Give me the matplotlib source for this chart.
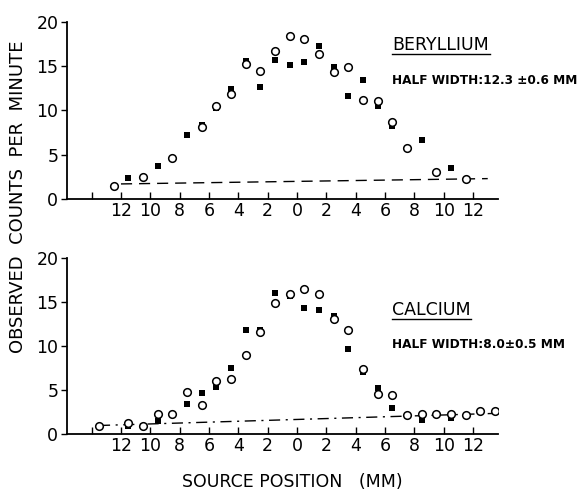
import matplotlib
matplotlib.use("Agg")
import matplotlib.pyplot as plt
import numpy as np

# ---- data ----
be_open_x = [-12.5, -10.5, -8.5, -6.5, -5.5, -4.5, -3.5, -2.5, -1.5, -0.5, 0.5, 1.5, 2.5, 3.5, 4.5, 5.5, 6.5, 7.5, 9.5, 11.5]
be_open_y = [1.5, 2.5, 4.6, 8.1, 10.5, 11.9, 15.2, 14.4, 16.7, 18.4, 18.1, 16.4, 14.3, 14.9, 11.2, 11.0, 8.7, 5.7, 3.1, 2.3]
be_fill_x = [-11.5, -9.5, -7.5, -6.5, -5.5, -4.5, -3.5, -2.5, -1.5, -0.5, 0.5, 1.5, 2.5, 3.5, 4.5, 5.5, 6.5, 8.5, 10.5]
be_fill_y = [2.4, 3.7, 7.2, 8.4, 10.3, 12.4, 15.6, 12.6, 15.7, 15.1, 15.5, 17.3, 14.9, 11.6, 13.4, 10.5, 8.2, 6.7, 3.5]
be_bg_x = [-12.0, 13.0]
be_bg_y = [1.7, 2.3]

ca_open_x = [-13.5, -11.5, -10.5, -9.5, -8.5, -7.5, -6.5, -5.5, -4.5, -3.5, -2.5, -1.5, -0.5, 0.5, 1.5, 2.5, 3.5, 4.5, 5.5, 6.5, 7.5, 8.5, 9.5, 10.5, 11.5, 12.5, 13.5]
ca_open_y = [1.0, 1.3, 0.9, 2.3, 2.3, 4.8, 3.3, 6.1, 6.3, 9.0, 11.6, 14.9, 16.0, 16.5, 16.0, 13.1, 11.8, 7.4, 4.6, 4.5, 2.2, 2.3, 2.3, 2.3, 2.2, 2.6, 2.65]
ca_fill_x = [-11.5, -9.5, -7.5, -6.5, -5.5, -4.5, -3.5, -2.5, -1.5, -0.5, 0.5, 1.5, 2.5, 3.5, 4.5, 5.5, 6.5, 8.5, 10.5]
ca_fill_y = [1.0, 1.55, 3.5, 4.7, 5.4, 7.5, 11.85, 11.85, 16.1, 15.7, 14.4, 14.1, 13.4, 9.7, 7.1, 5.3, 2.95, 1.6, 1.9]
ca_bg_x = [-13.5, 14.0]
ca_bg_y = [1.0, 2.4]

x_ticks = [-14, -12, -10, -8, -6, -4, -2, 0, 2, 4, 6, 8, 10, 12]
x_tick_labels = ["", "12", "10", "8", "6", "4", "2", "0", "2", "4", "6", "8", "10", "12"]
y_ticks = [0, 5, 10, 15, 20]
y_tick_labels = ["0", "5", "10", "15", "20"]

panels = [
    dict(ox=be_open_x, oy=be_open_y, fx=be_fill_x, fy=be_fill_y, bx=be_bg_x, by=be_bg_y,
         title="BERYLLIUM", hw="HALF WIDTH:12.3 ±0.6 MM", ls=(0, (8, 5)),
         ty=45, ul=490 - 392),
    dict(ox=ca_open_x, oy=ca_open_y, fx=ca_fill_x, fy=ca_fill_y, bx=ca_bg_x, by=ca_bg_y,
         title="CALCIUM", hw="HALF WIDTH:8.0±0.5 MM", ls=(0, (8, 4, 1.5, 4)),
         ty=310, ul=473 - 394),
]

plt.rcParams['font.family'] = ['DejaVu Sans']
fig = plt.figure(figsize=(5.84, 4.91), dpi=100)

W, H = 584.0, 491.0
rects = [
    [66.7 / W, 1 - 199 / H, (498 - 66.7) / W, 177.3 / H],
    [66.7 / W, 1 - 434.3 / H, (498 - 66.7) / W, 176 / H],
]

for rect, p in zip(rects, panels):
    ax = fig.add_axes(rect)
    ax.plot(p['bx'], p['by'], color='black', lw=1.0, linestyle=p['ls'])
    ax.plot(p['fx'], p['fy'], 's', color='black', ms=4.4, mew=0)
    ax.plot(p['ox'], p['oy'], 'o', mfc='white', mec='black', ms=5.5, mew=1.1)
    ax.set_xlim(-15.7, 13.7)
    ax.set_ylim(0, 20)
    for s in ['top', 'right']:
        ax.spines[s].set_visible(False)
    ax.spines['left'].set_linewidth(1.3)
    ax.spines['bottom'].set_linewidth(1.3)
    ax.set_xticks(x_ticks)
    ax.set_xticklabels(x_tick_labels, fontsize=12.5)
    ax.set_yticks(y_ticks)
    ax.set_yticklabels(y_tick_labels, fontsize=12.5)
    ax.tick_params(axis='x', direction='in', length=5, width=1, pad=2)
    ax.tick_params(axis='y', direction='out', length=4, width=1, pad=2)
    ax.patch.set_alpha(0)
    ty = p['ty']
    fig.text(392 / W, 1 - ty / H, p['title'], fontsize=12.5, va='center', ha='left')
    fig.add_artist(plt.Line2D([392 / W, (392 + p['ul']) / W], [1 - (ty + 9) / H] * 2,
                              color='black', lw=1.0))
    fig.text(392 / W, 1 - (ty + 35) / H, p['hw'], fontsize=8.7, va='center', ha='left',
             fontweight='bold')

fig.text(18 / W, 1 - 197 / H, "OBSERVED  COUNTS  PER  MINUTE", rotation=90,
         fontsize=13, va='center', ha='center')
fig.text(292 / W, 1 - 482 / H, "SOURCE POSITION   (MM)", fontsize=12.5,
         va='center', ha='center')

fig.savefig("out.png", dpi=100)
